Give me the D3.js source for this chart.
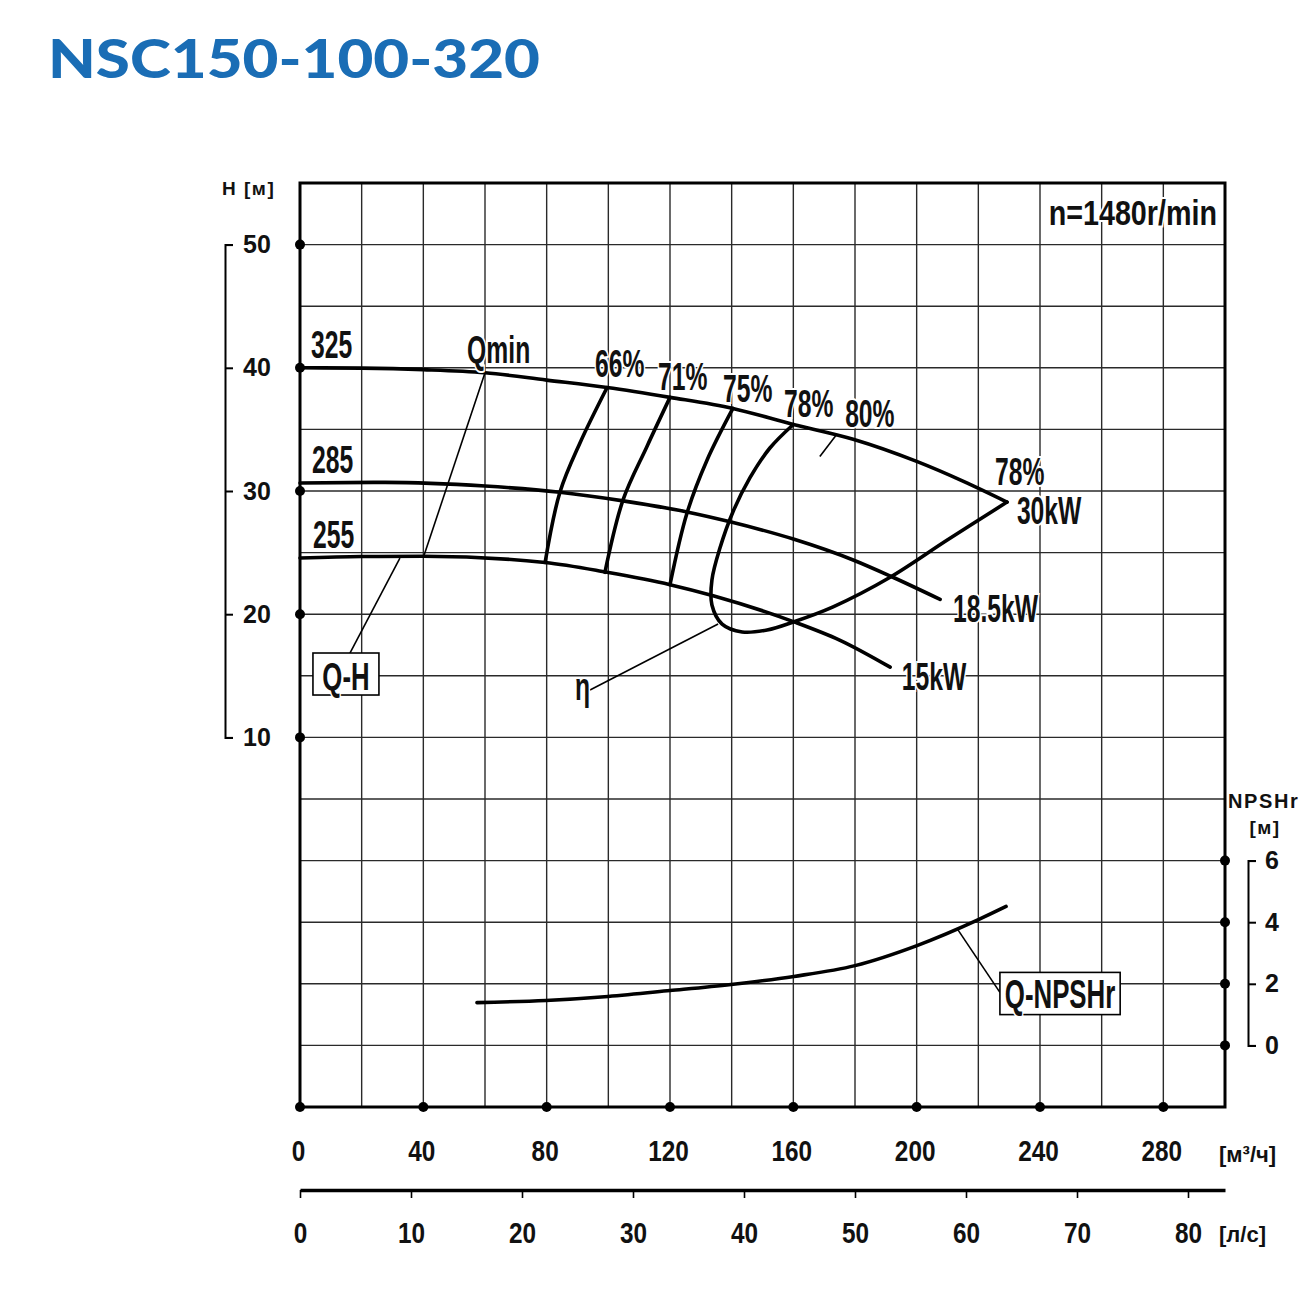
<!DOCTYPE html>
<html>
<head>
<meta charset="utf-8">
<script src="https://cdn.jsdelivr.net/npm/d3@7"></script>
<style>
  body { margin: 0; background: #fff; }
  .reg { font-family: "Liberation Sans", Arial, sans-serif; font-weight: bold; }
</style>
</head>
<body>
<div id="chart"></div>
<script>
// ---- data ----
var qTicks = [0, 40, 80, 120, 160, 200, 240, 280];      // m3/h
var lsTicks = [0, 10, 20, 30, 40, 50, 60, 70, 80];       // l/s
var hTicks = [10, 20, 30, 40, 50];                       // head, m
var npshTicks = [0, 2, 4, 6];                            // NPSHr, m

// Q-H curves for the three impeller diameters [Q m3/h, H m]
var qh325 = [[0, 40.0], [20, 39.97], [40, 39.85], [60, 39.6], [80, 39.0], [99.6, 38.4], [120, 37.6], [140.4, 36.7], [160, 35.4], [179.4, 34.2], [200, 32.4], [215, 30.8], [229.3, 29.1]];
var qh285 = [[0, 30.65], [27.6, 30.7], [60, 30.4], [84.3, 29.9], [104.8, 29.2], [125.5, 28.3], [139.5, 27.5], [160, 26.1], [179.4, 24.4], [191.4, 23.1], [207.6, 21.2]];
var qh255 = [[0, 24.56], [20, 24.68], [40, 24.7], [79.5, 24.2], [99.6, 23.4], [120, 22.4], [134, 21.5], [160, 19.4], [175, 17.9], [191.4, 15.7]];

// iso-efficiency lines
var eta66 = [[79.5, 24.2], [84.3, 29.9], [90.8, 33.9], [99.6, 38.4]];
var eta71 = [[98.9, 23.4], [104.8, 29.3], [112.5, 33.6], [120, 37.6]];
var eta75 = [[120, 22.4], [125.5, 28.2], [132, 32.5], [140.4, 36.7]];
var eta78 = [[160, 35.4], [152.4, 33.49], [145.9, 31.06], [140.4, 28.3], [136.2, 25.37], [133.6, 22.78], [133.6, 20.75], [136.9, 19.2], [143.4, 18.56], [151.5, 18.72], [160, 19.37], [172.9, 20.6], [191.4, 23.0], [209.8, 26.0], [229.3, 29.1]];
var eta80 = [[168.6, 32.8], [173.8, 34.5]];

// Qmin line and leaders
var qmin = [[60, 39.6], [40, 24.6]];
var qhLeader = [[32.4, 24.56], [16.2, 16.85]];
var etaLeader = [[94.05, 13.85], [135.6, 19.2]];

// Q-NPSHr [Q m3/h, NPSHr m]
var npsh = [[57.4, 1.39], [79.8, 1.46], [99.9, 1.59], [120, 1.78], [139.8, 1.98], [160.2, 2.24], [180, 2.59], [200.1, 3.24], [220.2, 4.09], [229, 4.51]];
var npshLeader = [[213.4, 3.75], [227, 1.72]];

// text labels in data units
var curveLabels = [
  { t: "325", q: 3.6, h: 40.8 },
  { t: "285", q: 3.9, h: 31.46 },
  { t: "255", q: 4.2, h: 25.4 },
  { t: "Qmin", q: 54.2, h: 40.4 },
  { t: "66%", q: 95.7, h: 39.25 },
  { t: "71%", q: 116.1, h: 38.2 },
  { t: "75%", q: 137.2, h: 37.2 },
  { t: "78%", q: 157, h: 36.0 },
  { t: "80%", q: 176.8, h: 35.2 },
  { t: "78%", q: 225.4, h: 30.45 },
  { t: "30kW", q: 232.5, h: 27.3 },
  { t: "18.5kW", q: 211.8, h: 19.37 },
  { t: "15kW", q: 195.2, h: 13.85 },
  { t: "η", q: 89.2, h: 13.0 }
];

var W = 1310, H = 1295;
var svg = d3.select("#chart").append("svg")
  .attr("width", W)
  .attr("height", H);

var x = d3.scaleLinear().domain([0, 300]).range([300, 1225]);
var xLs = d3.scaleLinear().domain([0, 300 / 3.6]).range([300, 1225]);
var yH = d3.scaleLinear().domain([-20, 55]).range([1107, 183]);
var yN = d3.scaleLinear().domain([-2, 28]).range([1107, 183]);

// title
svg.append("text")
  .attr("x", 48).attr("y", 78)
  .attr("textLength", 492)
  .attr("lengthAdjust", "spacingAndGlyphs")
  .style("font-family", "Lato, Inter, 'Open Sans', sans-serif")
  .style("font-weight", 900)
  .style("font-size", "53px")
  .style("fill", "#1a6db5")
  .text("NSC150-100-320");

// grid
var grid = svg.append("g").attr("stroke", "#2a2a2a").attr("stroke-width", 1.4);
grid.selectAll("line.v").data(d3.range(20, 300, 20)).enter().append("line")
  .attr("x1", d => x(d)).attr("x2", d => x(d))
  .attr("y1", yH(55)).attr("y2", yH(-20));
grid.selectAll("line.h").data(d3.range(-15, 55, 5)).enter().append("line")
  .attr("x1", x(0)).attr("x2", x(300))
  .attr("y1", d => yH(d)).attr("y2", d => yH(d));

// frame
svg.append("rect")
  .attr("x", x(0)).attr("y", yH(55))
  .attr("width", x(300) - x(0)).attr("height", yH(-20) - yH(55))
  .attr("fill", "none").attr("stroke", "#000").attr("stroke-width", 3);

// curves
var lineQ = d3.line().x(d => x(d[0])).y(d => yH(d[1])).curve(d3.curveMonotoneX);
var lineH = d3.line().x(d => x(d[0])).y(d => yH(d[1])).curve(d3.curveCatmullRom);
var lineN = d3.line().x(d => x(d[0])).y(d => yN(d[1])).curve(d3.curveMonotoneX);
var straightH = d3.line().x(d => x(d[0])).y(d => yH(d[1]));
var straightN = d3.line().x(d => x(d[0])).y(d => yN(d[1]));

var curves = svg.append("g").attr("fill", "none").attr("stroke", "#000")
  .attr("stroke-linecap", "round").attr("stroke-linejoin", "miter").attr("stroke-width", 3.6);
[qh325, qh285, qh255].forEach(function(c) {
  curves.append("path").attr("d", lineQ(c));
});
[eta66, eta71, eta75, eta78].forEach(function(c) {
  curves.append("path").attr("d", lineH(c));
});
curves.append("path").attr("d", lineN(npsh));

// thin lines
var thin = svg.append("g").attr("fill", "none").attr("stroke", "#000").attr("stroke-width", 1.6);
[qmin, qhLeader, etaLeader, eta80].forEach(function(c) {
  thin.append("path").attr("d", straightH(c));
});
thin.append("path").attr("d", straightN(npshLeader));

// dots on axes
var dots = svg.append("g").attr("fill", "#000");
dots.selectAll("circle.h").data(hTicks).enter().append("circle")
  .attr("cx", x(0)).attr("cy", d => yH(d)).attr("r", 5);
dots.selectAll("circle.q").data(qTicks).enter().append("circle")
  .attr("cx", d => x(d)).attr("cy", yH(-20)).attr("r", 5);
dots.selectAll("circle.n").data(npshTicks).enter().append("circle")
  .attr("cx", x(300)).attr("cy", d => yN(d)).attr("r", 5);

// left bracket axis (H)
var yB = d3.scaleLinear().domain([10, 50]).range([yH(10), yH(50)]);
var axH = svg.append("g")
  .attr("transform", "translate(225,0)")
  .call(d3.axisRight(yB).tickValues(hTicks).tickSize(8).tickPadding(10).tickFormat(d3.format("d")));
axH.selectAll("path, line").attr("stroke", "#000").attr("stroke-width", 2);
axH.selectAll("text").attr("class", "reg").style("font-size", "25px").attr("fill", "#111");

// right bracket axis (NPSHr)
var yNB = d3.scaleLinear().domain([0, 6]).range([yN(0), yN(6)]);
var axN = svg.append("g")
  .attr("transform", "translate(1248,0)")
  .call(d3.axisRight(yNB).tickValues(npshTicks).tickSize(8).tickPadding(9).tickFormat(d3.format("d")));
axN.selectAll("path, line").attr("stroke", "#000").attr("stroke-width", 2);
axN.selectAll("text").attr("class", "reg").style("font-size", "25px").attr("fill", "#111");

// bottom labels m3/h
var axQ = svg.append("g")
  .attr("transform", "translate(-2," + yH(-20) + ")")
  .call(d3.axisBottom(x).tickValues(qTicks).tickSize(0).tickPadding(33));
axQ.select(".domain").remove();
axQ.selectAll("text").attr("class", "reg").style("font-size", "29px")
  .attr("transform", "scale(0.84,1)").attr("fill", "#111");

// second axis l/s
var axL = svg.append("g")
  .attr("transform", "translate(0,1190)")
  .call(d3.axisBottom(xLs).tickValues(lsTicks).tickSize(8).tickSizeOuter(0).tickPadding(24));
axL.select(".domain").attr("stroke", "#000").attr("stroke-width", 3.5);
axL.selectAll(".tick line").attr("stroke", "#000").attr("stroke-width", 1.6);
axL.selectAll("text").attr("class", "reg").style("font-size", "29px")
  .attr("transform", "scale(0.84,1)").attr("fill", "#111");

// axis titles
svg.append("text").attr("class", "reg").attr("x", 222).attr("y", 195)
  .style("font-size", "19px").style("letter-spacing", "1.5px").attr("fill", "#111").text("H [м]");
svg.append("text").attr("class", "reg").attr("x", 1228).attr("y", 808)
  .style("font-size", "20px").style("letter-spacing", "1.6px").attr("fill", "#111").text("NPSHr");
svg.append("text").attr("class", "reg").attr("x", 1265).attr("y", 834).attr("text-anchor", "middle")
  .style("font-size", "19px").style("letter-spacing", "1.5px").attr("fill", "#111").text("[м]");
svg.append("text").attr("class", "reg").attr("x", 1219).attr("y", 1162)
  .style("font-size", "22px").attr("fill", "#111").text("[м³/ч]");
svg.append("text").attr("class", "reg").attr("x", 1219).attr("y", 1242)
  .style("font-size", "22px").attr("fill", "#111").text("[л/с]");

// condensed labels on the plot
function narrow(px, py, txt, size, sx, anchor) {
  return svg.append("text")
    .attr("class", "reg")
    .attr("transform", "translate(" + px + "," + py + ") scale(" + sx + ",1)")
    .attr("text-anchor", anchor || "start")
    .style("font-size", size + "px")
    .attr("fill", "#111")
    .attr("stroke", "#fff").attr("stroke-width", 4).attr("paint-order", "stroke")
    .text(txt);
}

curveLabels.forEach(function(l) {
  narrow(x(l.q), yH(l.h), l.t, 38, 0.65);
});

narrow(x(297.4), yH(51.6), "n=1480r/min", 35, 0.82, "end");

// Q-H box
svg.append("rect")
  .attr("x", x(4.2)).attr("y", yH(16.85))
  .attr("width", x(25.6) - x(4.2)).attr("height", yH(13.44) - yH(16.85))
  .attr("fill", "#fff").attr("stroke", "#000").attr("stroke-width", 1.6);
narrow(x(14.9), yH(13.85), "Q-H", 39, 0.66, "middle");

// Q-NPSHr box
svg.append("rect")
  .attr("x", x(227)).attr("y", yN(2.37))
  .attr("width", x(266) - x(227)).attr("height", yN(1.0) - yN(2.37))
  .attr("fill", "#fff").attr("stroke", "#000").attr("stroke-width", 1.6);
narrow(x(246.5), yN(1.22), "Q-NPSHr", 41, 0.63, "middle");
</script>
</body>
</html>
